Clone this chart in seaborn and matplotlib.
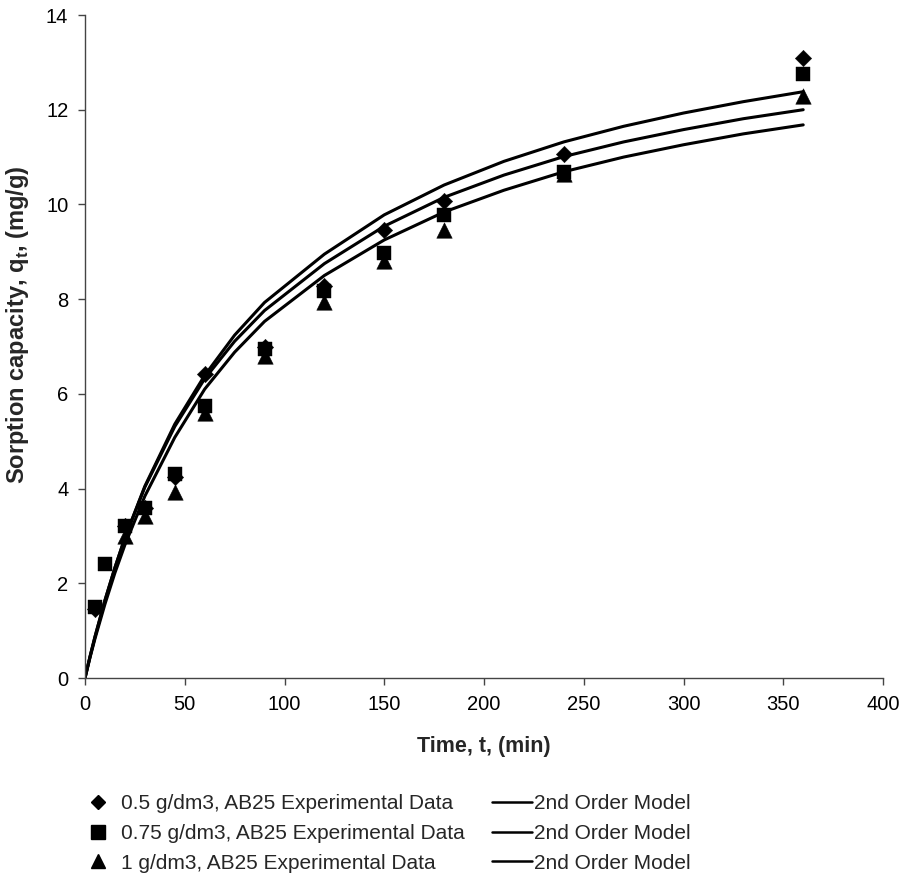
import numpy as np
import pandas as pd
import matplotlib
matplotlib.use("Agg")
import matplotlib.pyplot as plt
import seaborn as sns
from matplotlib.lines import Line2D

sns.set_theme(style="ticks")
plt.rcParams['font.family'] = ['Liberation Sans', 'DejaVu Sans']
plt.rcParams['mathtext.fontset'] = 'custom'
plt.rcParams['mathtext.bf'] = 'Liberation Sans:bold'
plt.rcParams['mathtext.rm'] = 'Liberation Sans'

t_d = [5, 20, 30, 45, 60, 90, 120, 150, 180, 240, 360]
q_d = [1.45, 3.2, 3.6, 4.25, 6.42, 7.0, 8.28, 9.45, 10.07, 11.07, 13.1]
t_s = [5, 10, 20, 30, 45, 60, 90, 120, 150, 180, 240, 360]
q_s = [1.5, 2.4, 3.2, 3.6, 4.3, 5.75, 6.95, 8.17, 8.97, 9.78, 10.69, 12.75]
t_t = [20, 30, 45, 60, 90, 120, 150, 180, 240, 360]
q_t = [3.0, 3.42, 3.92, 5.6, 6.8, 7.93, 8.8, 9.45, 10.65, 12.3]

# Model curves
t_m = [0, 2.5, 5, 10, 15, 20, 30, 45, 60, 75, 90, 120, 150, 180, 210, 240, 270, 300, 330, 360]
m_05 = [0, 0.45, 0.87, 1.64, 2.33, 2.96, 4.05, 5.36, 6.39, 7.24, 7.93, 8.95, 9.78, 10.41, 10.91, 11.32, 11.65, 11.93, 12.17, 12.38]
m_075 = [0, 0.45, 0.87, 1.64, 2.33, 2.96, 4.03, 5.31, 6.32, 7.11, 7.76, 8.75, 9.54, 10.15, 10.62, 11.01, 11.32, 11.58, 11.81, 12.0]
m_1 = [0, 0.43, 0.83, 1.56, 2.22, 2.81, 3.84, 5.08, 6.1, 6.88, 7.53, 8.5, 9.25, 9.84, 10.3, 10.69, 11.0, 11.26, 11.49, 11.68]

labels = ["0.5 g/dm3, AB25 Experimental Data",
          "0.75 g/dm3, AB25 Experimental Data",
          "1 g/dm3, AB25 Experimental Data"]
model_label = "2nd Order Model"

exp_df = pd.concat([
    pd.DataFrame({"t": t_d, "q": q_d, "series": labels[0]}),
    pd.DataFrame({"t": t_s, "q": q_s, "series": labels[1]}),
    pd.DataFrame({"t": t_t, "q": q_t, "series": labels[2]}),
])
mod_df = pd.concat([
    pd.DataFrame({"t": t_m, "q": m_05, "series": "m05"}),
    pd.DataFrame({"t": t_m, "q": m_075, "series": "m075"}),
    pd.DataFrame({"t": t_m, "q": m_1, "series": "m1"}),
])

fig = plt.figure(figsize=(9.05, 8.81), dpi=100)
ax = fig.add_axes([85/905, 1-678/881, (883-85)/905, (678-15)/881])

sns.lineplot(data=mod_df, x="t", y="q", units="series", estimator=None,
             color="black", lw=2.2, ax=ax, legend=False)
markers = {labels[0]: "D", labels[1]: "s", labels[2]: "^"}
sizes = {labels[0]: 70, labels[1]: 115, labels[2]: 125}
for lab in labels:
    sub = exp_df[exp_df.series == lab]
    sns.scatterplot(data=sub, x="t", y="q", marker=markers[lab], s=sizes[lab],
                    color="black", edgecolor="black", linewidth=0.3, ax=ax,
                    legend=False, zorder=3)

ax.set_xlim(0, 400)
ax.set_ylim(0, 14)
ax.set_xticks(np.arange(0, 401, 50))
ax.set_yticks(np.arange(0, 15, 2))
for s in ["top", "right"]:
    ax.spines[s].set_visible(False)
for s in ["left", "bottom"]:
    ax.spines[s].set_color("#444444")
    ax.spines[s].set_linewidth(1.0)
ax.tick_params(axis="both", labelsize=14.5, length=5, width=1, color="#444444",
               direction="out", pad=7, labelcolor="black")
ax.set_xlabel("Time, t, (min)", fontsize=15.5, fontweight="bold", labelpad=16)
ax.set_ylabel(r"Sorption capacity, q$_\mathbf{t}$, (mg/g)", fontsize=17,
              fontweight="bold")
ax.yaxis.set_label_coords(-0.068, 0.532)

# Legend
handles = [Line2D([], [], marker="D", color="black", ls="none", markersize=7),
           Line2D([], [], marker="s", color="black", ls="none", markersize=9.5),
           Line2D([], [], marker="^", color="black", ls="none", markersize=10),
           Line2D([], [], color="black", lw=1.8),
           Line2D([], [], color="black", lw=1.8),
           Line2D([], [], color="black", lw=1.8)]
leg_labels = labels + [model_label] * 3
fig.legend(handles, leg_labels, ncol=2, loc="upper left",
           bbox_to_anchor=(78/905, 1-794/881), frameon=False,
           fontsize=15, handlelength=1.95, handletextpad=0.1,
           columnspacing=1.3, labelspacing=0.52, borderpad=0,
           borderaxespad=0)

fig.savefig("out.png", dpi=100)
